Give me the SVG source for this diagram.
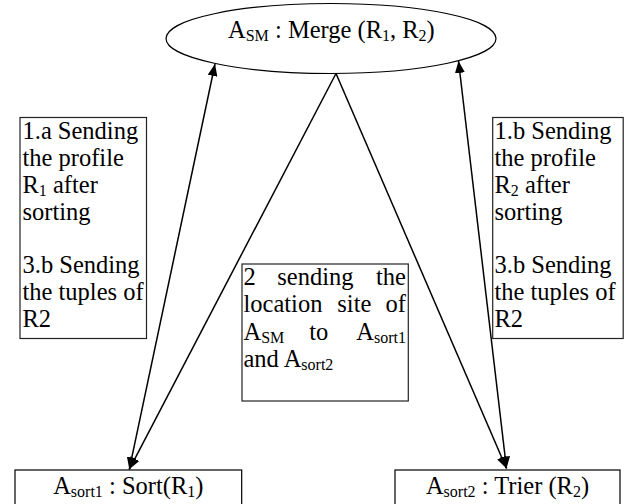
<svg xmlns="http://www.w3.org/2000/svg" width="630" height="504" viewBox="0 0 630 504">
  <style>
    text { font-family: "Liberation Serif", "Times New Roman", serif; font-size: 24.5px; fill: #000; }
    .sub { font-size: 16px; }
    .box { fill: #fff; stroke: #000; stroke-width: 1.2; }
    .note { fill: #fff; stroke: #222; stroke-width: 1.2; }
    .link { fill: none; stroke: #000; stroke-width: 1.5; }
  </style>
  <defs>
    <marker id="head" viewBox="0 0 12 10" refX="12" refY="5" markerWidth="12" markerHeight="10" markerUnits="userSpaceOnUse" orient="auto-start-reverse">
      <path d="M0,0 L12,5 L0,10 Z" fill="#000"/>
    </marker>
  </defs>

  <rect width="630" height="504" fill="#fff"/>

  <!-- merge agent -->
  <g id="merge">
    <ellipse class="box" cx="331" cy="38.5" rx="165" ry="35"/>
    <text x="228" y="38">A<tspan class="sub" dy="3">SM</tspan><tspan dy="-3"> : Merge (R</tspan><tspan class="sub" dy="3">1</tspan><tspan dy="-3">, R</tspan><tspan class="sub" dy="3">2</tspan><tspan dy="-3">)</tspan></text>
  </g>

  <!-- message notes -->
  <g id="note-left">
    <rect class="note" x="20" y="117.5" width="126.5" height="221"/>
    <text x="22.5" y="139.3">1.a Sending</text>
    <text x="22.5" y="166">the profile</text>
    <text x="22.5" y="192.8">R<tspan class="sub" dy="3">1</tspan><tspan dy="-3"> after</tspan></text>
    <text x="22.5" y="219.6">sorting</text>
    <text x="22.5" y="273.2">3.b Sending</text>
    <text x="22.5" y="300">the tuples of</text>
    <text x="22.5" y="326.8">R2</text>
  </g>

  <g id="note-right">
    <rect class="note" x="492.7" y="117.5" width="130.5" height="221"/>
    <text x="494.5" y="139.3">1.b Sending</text>
    <text x="494.5" y="166">the profile</text>
    <text x="494.5" y="192.8">R<tspan class="sub" dy="3">2</tspan><tspan dy="-3"> after</tspan></text>
    <text x="494.5" y="219.6">sorting</text>
    <text x="494.5" y="273.2">3.b Sending</text>
    <text x="494.5" y="300">the tuples of</text>
    <text x="494.5" y="326.8">R2</text>
  </g>

  <g id="note-center">
    <rect class="note" x="242" y="264" width="166.3" height="137"/>
    <text x="243.5" y="285">2</text>
    <text x="277.3" y="285">sending</text>
    <text x="406" y="285" text-anchor="end">the</text>
    <text x="243.5" y="312.3">location</text>
    <text x="337.3" y="312.3">site</text>
    <text x="406" y="312.3" text-anchor="end">of</text>
    <text x="243.5" y="339.5">A<tspan class="sub" dy="3">SM</tspan></text>
    <text x="309.3" y="339.5">to</text>
    <text x="406" y="339.5" text-anchor="end">A<tspan class="sub" dy="3">sort1</tspan></text>
    <text x="243.5" y="366.7">and A<tspan class="sub" dy="3">sort2</tspan></text>
  </g>

  <!-- sort agents -->
  <g id="sort1">
    <rect class="box" x="15" y="470" width="226.7" height="45"/>
    <text x="128.3" y="494" text-anchor="middle">A<tspan class="sub" dy="3">sort1</tspan><tspan dy="-3"> : Sort(R</tspan><tspan class="sub" dy="3">1</tspan><tspan dy="-3">)</tspan></text>
  </g>

  <g id="sort2">
    <rect class="box" x="395" y="470" width="225" height="45"/>
    <text x="507.5" y="494" text-anchor="middle">A<tspan class="sub" dy="3">sort2</tspan><tspan dy="-3"> : Trier (R</tspan><tspan class="sub" dy="3">2</tspan><tspan dy="-3">)</tspan></text>
  </g>

  <!-- connectors -->
  <g id="connectors">
    <line class="link" x1="129.3" y1="469.3" x2="215" y2="64" marker-start="url(#head)" marker-end="url(#head)"/>
    <line class="link" x1="336" y1="73.5" x2="129.3" y2="469.3" marker-end="url(#head)"/>
    <line class="link" x1="336" y1="73.5" x2="506.5" y2="468.5" marker-end="url(#head)"/>
    <line class="link" x1="506.5" y1="468.5" x2="458.5" y2="61" marker-start="url(#head)" marker-end="url(#head)"/>
  </g>
</svg>
